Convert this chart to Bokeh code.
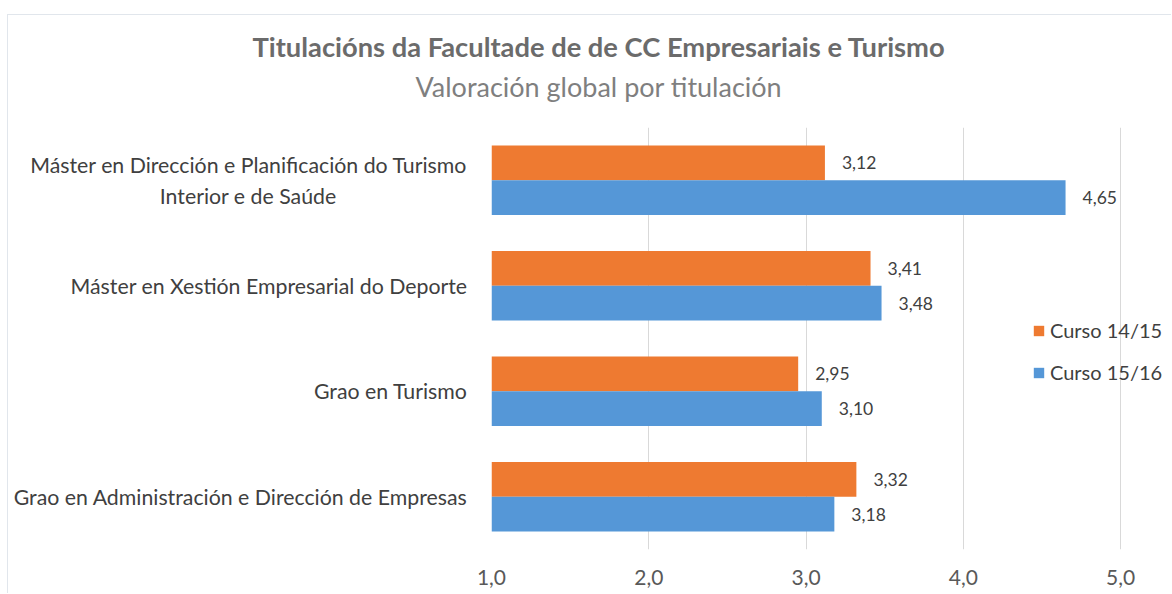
from bokeh.plotting import figure
from bokeh.models import (ColumnDataSource, Legend, LegendItem, Title, FactorRange,
                          Range1d, FixedTicker, CustomJSTickFormatter)
from bokeh.transform import dodge
from bokeh.core.properties import value
from bokeh.embed import file_html
from bokeh.resources import INLINE

# ---- data ----
categories = [
    "Máster en Dirección e Planificación do Turismo\nInterior e de Saúde",
    "Máster en Xestión Empresarial do Deporte",
    "Grao en Turismo",
    "Grao en Administración e Dirección de Empresas",
]
series_names = ["Curso 14/15", "Curso 15/16"]
curso_14_15 = [3.12, 3.41, 2.95, 3.32]
curso_15_16 = [4.65, 3.48, 3.10, 3.18]
x_ticks = [1.0, 2.0, 3.0, 4.0, 5.0]

FONT = "Lato"
ORANGE = "#EE7A31"
BLUE = "#5597D7"
TEXT = "#404040"

def fmt(v):
    return f"{v:.2f}".replace(".", ",")

src = ColumnDataSource(dict(
    cat=categories,
    a=curso_14_15, b=curso_15_16,
    a_lbl=[fmt(v) for v in curso_14_15],
    b_lbl=[fmt(v) for v in curso_15_16],
))

p = figure(
    width=1164, height=579,
    y_range=FactorRange(factors=list(reversed(categories))),
    x_range=Range1d(1.0, 5.33),
    output_backend="svg", toolbar_location=None, title=None,
    min_border_left=483, min_border_right=0, min_border_top=112, min_border_bottom=45,
)
p.margin = (14, 0, 0, 7)
p.styles = {"border-top": "1px solid #e1e6ec", "border-left": "1px solid #e1e6ec"}
p.outline_line_color = None
p.background_fill_color = "white"
p.border_fill_color = "white"

bh = 0.33
r_a = p.hbar(y=dodge("cat", bh / 2, range=p.y_range), left=1.0, right="a", height=bh,
             source=src, color=ORANGE, line_color=None)
r_b = p.hbar(y=dodge("cat", -bh / 2, range=p.y_range), left=1.0, right="b", height=bh,
             source=src, color=BLUE, line_color=None)

p.text(x="a", y=dodge("cat", bh / 2, range=p.y_range), text="a_lbl", source=src,
       x_offset=17, text_align="left", text_baseline="middle",
       text_font=value(FONT), text_font_size="17.5px", text_color=TEXT)
p.text(x="b", y=dodge("cat", -bh / 2, range=p.y_range), text="b_lbl", source=src,
       x_offset=17, text_align="left", text_baseline="middle",
       text_font=value(FONT), text_font_size="17.5px", text_color=TEXT)

# axes
p.xaxis.ticker = FixedTicker(ticks=x_ticks)
p.xaxis.formatter = CustomJSTickFormatter(code="return tick.toFixed(1).replace('.', ',');")
p.xaxis.axis_line_color = None
p.xaxis.major_tick_line_color = None
p.xaxis.minor_tick_line_color = None
p.xaxis.major_tick_in = 0
p.xaxis.major_tick_out = 0
p.xaxis.major_label_standoff = 20
p.xaxis.major_label_text_font = FONT
p.xaxis.major_label_text_font_size = "21px"
p.xaxis.major_label_text_color = "#595959"

# two-line category: second line centred under the first (as in the reference)
p.yaxis.formatter = CustomJSTickFormatter(code="""
    const s = String(tick);
    const i = s.indexOf('\\n');
    if (i < 0) { return s; }
    return s.slice(0, i) + '\\n' + s.slice(i + 1) + '\\u00a0'.repeat(24) + '\\u200b';
""")
p.yaxis.axis_line_color = None
p.yaxis.major_tick_line_color = None
p.yaxis.minor_tick_line_color = None
p.yaxis.major_tick_in = 0
p.yaxis.major_tick_out = 0
p.yaxis.major_label_standoff = 24
p.yaxis.major_label_text_font = FONT
p.yaxis.major_label_text_font_size = "21.3px"
p.yaxis.major_label_text_color = TEXT

p.xgrid.grid_line_color = "#D9D9D9"
p.ygrid.grid_line_color = None

# titles
sub = Title(text="Valoración global por titulación", align="left", offset=-76,
            text_font=FONT, text_font_size="27px", text_font_style="normal",
            text_color="#7f7f7f", standoff=50)
main = Title(text="Titulacións da Facultade de de CC Empresariais e Turismo", align="left",
             offset=-239, text_font=FONT, text_font_size="27.3px", text_font_style="bold",
             text_color="#6b6b6b", standoff=-40)
p.add_layout(sub, "above")
p.add_layout(main, "above")

legend = Legend(items=[LegendItem(label=series_names[0], renderers=[r_a]),
                       LegendItem(label=series_names[1], renderers=[r_b])],
                location=(541, 165), padding=0, margin=0, spacing=18,
                glyph_width=13, glyph_height=13, label_height=24, label_standoff=5,
                label_text_font=FONT, label_text_font_size="20px", label_text_color=TEXT,
                border_line_color=None, background_fill_alpha=0)
p.add_layout(legend, "center")

open("out.html", "w").write(file_html(p, INLINE))
